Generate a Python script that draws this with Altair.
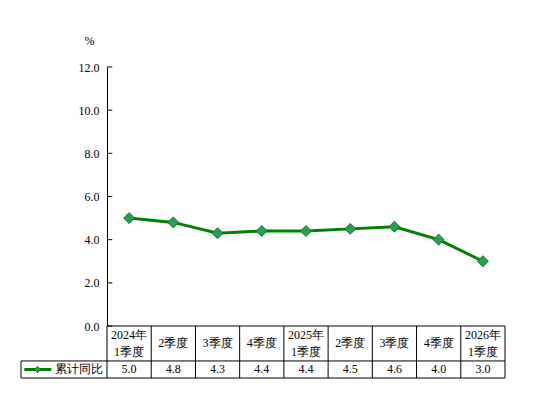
import altair as alt
import pandas as pd

categories = ["2024年\n1季度", "2季度", "3季度", "4季度", "2025年\n1季度",
              "2季度", "3季度", "4季度", "2026年\n1季度"]
values = [5.0, 4.8, 4.3, 4.4, 4.4, 4.5, 4.6, 4.0, 3.0]
series_name = "累计同比"
y_ticks = [0, 2, 4, 6, 8, 10, 12]

FONT = "Times New Roman, Liberation Serif, DejaVu Serif, serif"
GREEN = "#008000"
n = len(categories)

# table geometry in data units (column width = 1 unit, y in value units)
ROW1_BOTTOM = -1.62
ROW2_BOTTOM = -2.41
LEG_LEFT = -1.945
LINE_STEP = 0.79

xs = alt.Scale(domain=[0, n])
ys = alt.Scale(domain=[0, 12])
YAXIS = alt.Axis(
    values=y_ticks, format=".1f", ticks=False, grid=False,
    domain=True, domainColor="black", domainWidth=1,
    labelFont=FONT, labelFontSize=12, labelColor="black", labelPadding=8,
    title="%", titleAngle=0, titleFont=FONT, titleFontSize=12,
    titleFontWeight="normal", titleColor="black",
    titleX=-18, titleY=-27, titleAlign="center", titleBaseline="middle")


def X(f):
    return alt.X(f, type="quantitative", scale=xs, axis=None)


def Y(f):
    return alt.Y(f, type="quantitative", scale=ys, axis=YAXIS)


# split category labels into text lines, vertically centred in the cell
rows = []
cy = ROW1_BOTTOM / 2
for i, c in enumerate(categories):
    parts = c.split("\n")
    k = len(parts)
    for j, p in enumerate(parts):
        rows.append({"x": i + 0.5, "t": p, "y": cy + ((k - 1) / 2 - j) * LINE_STEP})
cat_df = pd.DataFrame(rows)

df = pd.DataFrame({
    "x": [i + 0.5 for i in range(n)],
    "value": values,
    "vlabel": [f"{v:.1f}" for v in values],
    "yval": [(ROW1_BOTTOM + ROW2_BOTTOM) / 2] * n,
})
base = alt.Chart(df)

line = base.mark_line(color=GREEN, strokeWidth=3).encode(x=X("x"), y=Y("value"))
points = base.mark_point(shape="diamond", filled=True, size=120, fill="#2e9a52",
                         stroke="#0b7a2b", strokeWidth=1, opacity=1).encode(
    x=X("x"), y=Y("value"))

tick_df = pd.DataFrame({"t": y_ticks, "x0": [0] * len(y_ticks), "x1": [0.12] * len(y_ticks)})
ticks = alt.Chart(tick_df).mark_rule(color="black", strokeWidth=1).encode(
    x=X("x0"), x2=alt.X2("x1"), y=Y("t"))

hlines = pd.DataFrame({
    "y": [0, ROW1_BOTTOM, ROW2_BOTTOM],
    "x0": [0, LEG_LEFT, LEG_LEFT],
    "x1": [n, n, n],
})
hrule = alt.Chart(hlines).mark_rule(color="black", strokeWidth=1).encode(
    x=X("x0"), x2=alt.X2("x1"), y=Y("y"))

vlines = pd.DataFrame({
    "x": list(range(n + 1)) + [LEG_LEFT],
    "y0": [0] * (n + 1) + [ROW1_BOTTOM],
    "y1": [ROW2_BOTTOM] * (n + 2),
})
vrule = alt.Chart(vlines).mark_rule(color="black", strokeWidth=1).encode(
    x=X("x"), y=Y("y0"), y2=alt.Y2("y1"))

cat_text = alt.Chart(cat_df).mark_text(font=FONT, fontSize=12, color="black",
                                       baseline="middle").encode(
    x=X("x"), y=Y("y"), text="t:N")

val_text = base.mark_text(font=FONT, fontSize=12, color="black", baseline="middle").encode(
    x=X("x"), y=Y("yval"), text="vlabel:N")

LEG_Y = (ROW1_BOTTOM + ROW2_BOTTOM) / 2
leg_df = pd.DataFrame({"x0": [-1.87], "x1": [-1.26], "xm": [-1.57], "xt": [-1.18],
                       "y": [LEG_Y], "name": [series_name]})
leg_line = alt.Chart(leg_df).mark_rule(color=GREEN, strokeWidth=3).encode(
    x=X("x0"), x2=alt.X2("x1"), y=Y("y"))
leg_pt = alt.Chart(leg_df).mark_point(shape="diamond", filled=True, size=40, fill="#2e9a52",
                                      stroke="#0b7a2b", strokeWidth=1, opacity=1).encode(
    x=X("xm"), y=Y("y"))
leg_txt = alt.Chart(leg_df).mark_text(font=FONT, fontSize=12, color="black", align="left",
                                      baseline="middle").encode(
    x=X("xt"), y=Y("y"), text="name:N")

chart = alt.layer(ticks, hrule, vrule, line, points, cat_text, val_text,
                  leg_line, leg_pt, leg_txt).properties(
    width=398, height=259,
    autosize=alt.AutoSizeParams(type="none"),
    padding={"left": 99, "top": 59, "right": 21, "bottom": 70},
    background="white",
).configure_view(stroke=None).configure_text(font=FONT).configure_axis(labelFont=FONT, titleFont=FONT)

chart.save("out.html", embed_options={"renderer": "svg", "actions": False})
